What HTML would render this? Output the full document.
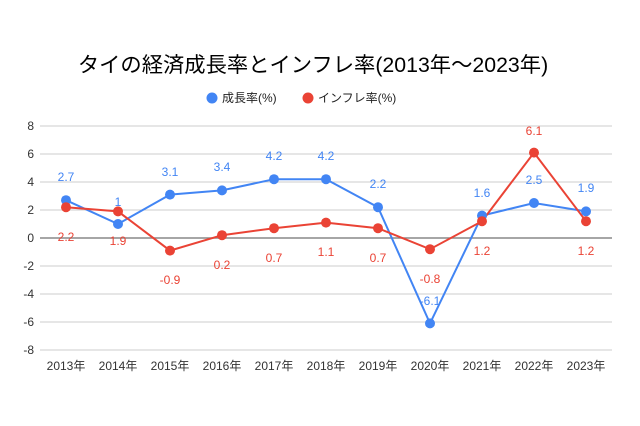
<!DOCTYPE html><html><head><style>body{margin:0;background:#fff}svg{display:block}text{font-family:"Liberation Sans","Noto Sans CJK JP",sans-serif}</style></head><body>
<svg width="640" height="426" xmlns="http://www.w3.org/2000/svg">
<text x="313" y="72" text-anchor="middle" font-size="21.3" fill="#000">タイの経済成長率とインフレ率(2013年〜2023年)</text>
<circle cx="212" cy="98" r="5.5" fill="#4285f4"/><text x="222" y="102" font-size="12" fill="#222">成長率(%)</text>
<circle cx="308" cy="98" r="5.5" fill="#ea4335"/><text x="318" y="102" font-size="12" fill="#222">インフレ率(%)</text>
<g stroke="#ccc" stroke-width="1">
<line x1="40" x2="612" y1="126" y2="126"/><line x1="40" x2="612" y1="154" y2="154"/><line x1="40" x2="612" y1="182" y2="182"/><line x1="40" x2="612" y1="210" y2="210"/><line x1="40" x2="612" y1="266" y2="266"/><line x1="40" x2="612" y1="294" y2="294"/><line x1="40" x2="612" y1="322" y2="322"/><line x1="40" x2="612" y1="350" y2="350"/>
</g>
<line x1="40" x2="612" y1="238" y2="238" stroke="#888" stroke-width="1.5"/>
<g font-size="12" fill="#333" text-anchor="end">
<text x="34" y="130">8</text><text x="34" y="158">6</text><text x="34" y="186">4</text><text x="34" y="214">2</text><text x="34" y="242">0</text><text x="34" y="270">-2</text><text x="34" y="298">-4</text><text x="34" y="326">-6</text><text x="34" y="354">-8</text>
</g>
<g font-size="12" fill="#333" text-anchor="middle">
<text x="66" y="370">2013年</text><text x="118" y="370">2014年</text><text x="170" y="370">2015年</text><text x="222" y="370">2016年</text><text x="274" y="370">2017年</text><text x="326" y="370">2018年</text><text x="378" y="370">2019年</text><text x="430" y="370">2020年</text><text x="482" y="370">2021年</text><text x="534" y="370">2022年</text><text x="586" y="370">2023年</text>
</g>
<polyline fill="none" stroke="#4285f4" stroke-width="2" points="66,200.2 118,224 170,194.6 222,190.4 274,179.2 326,179.2 378,207.2 430,323.4 482,215.6 534,203 586,211.4"/>
<polyline fill="none" stroke="#ea4335" stroke-width="2" points="66,207.2 118,211.4 170,250.6 222,235.2 274,228.2 326,222.6 378,228.2 430,249.2 482,221.2 534,152.6 586,221.2"/>
<g fill="#4285f4"><circle cx="66" cy="200.2" r="5"/><circle cx="118" cy="224" r="5"/><circle cx="170" cy="194.6" r="5"/><circle cx="222" cy="190.4" r="5"/><circle cx="274" cy="179.2" r="5"/><circle cx="326" cy="179.2" r="5"/><circle cx="378" cy="207.2" r="5"/><circle cx="430" cy="323.4" r="5"/><circle cx="482" cy="215.6" r="5"/><circle cx="534" cy="203" r="5"/><circle cx="586" cy="211.4" r="5"/></g>
<g fill="#ea4335"><circle cx="66" cy="207.2" r="5"/><circle cx="118" cy="211.4" r="5"/><circle cx="170" cy="250.6" r="5"/><circle cx="222" cy="235.2" r="5"/><circle cx="274" cy="228.2" r="5"/><circle cx="326" cy="222.6" r="5"/><circle cx="378" cy="228.2" r="5"/><circle cx="430" cy="249.2" r="5"/><circle cx="482" cy="221.2" r="5"/><circle cx="534" cy="152.6" r="5"/><circle cx="586" cy="221.2" r="5"/></g>
<g font-size="12" fill="#4285f4" text-anchor="middle">
<text x="66" y="181">2.7</text><text x="118" y="206">1</text><text x="170" y="176">3.1</text><text x="222" y="171">3.4</text><text x="274" y="160">4.2</text><text x="326" y="160">4.2</text><text x="378" y="188">2.2</text><text x="430" y="305">-6.1</text><text x="482" y="197">1.6</text><text x="534" y="184">2.5</text><text x="586" y="192">1.9</text>
</g>
<g font-size="12" fill="#ea4335" text-anchor="middle">
<text x="66" y="241">2.2</text><text x="118" y="245">1.9</text><text x="170" y="284">-0.9</text><text x="222" y="269">0.2</text><text x="274" y="262">0.7</text><text x="326" y="256">1.1</text><text x="378" y="262">0.7</text><text x="430" y="283">-0.8</text><text x="482" y="255">1.2</text><text x="534" y="135">6.1</text><text x="586" y="255">1.2</text>
</g>
</svg></body></html>
